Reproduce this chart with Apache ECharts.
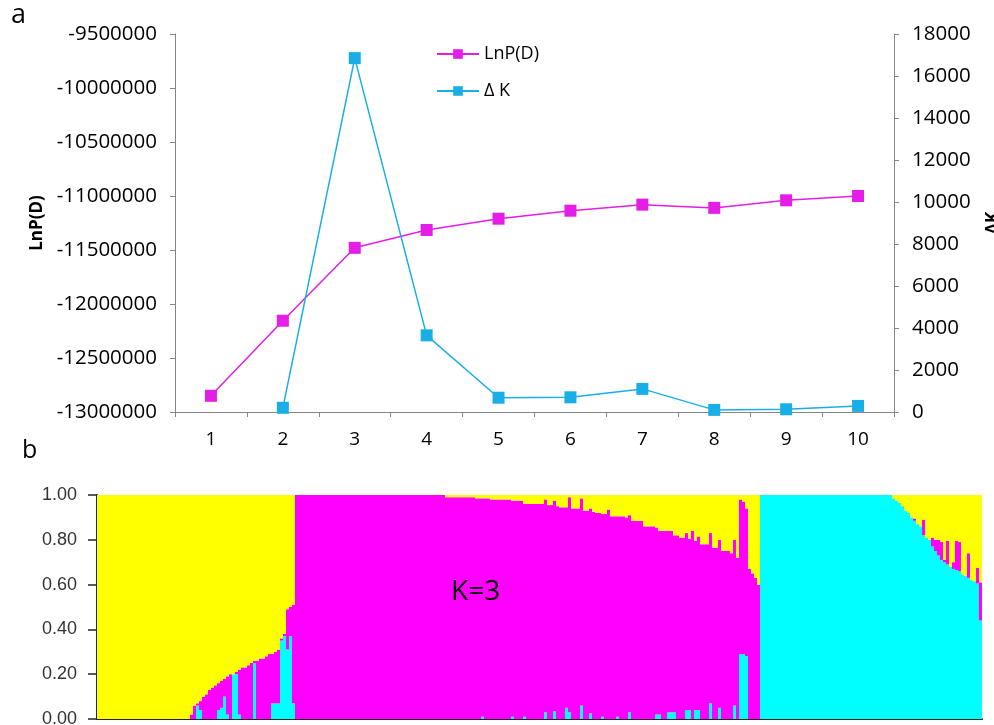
<!DOCTYPE html>
<html><head><meta charset="utf-8">
<script src="https://cdn.jsdelivr.net/npm/echarts@6/dist/echarts.min.js"></script>
<style>html,body{margin:0;padding:0;background:#fff}#c{width:994px;height:725px}</style>
</head><body><div id="c"></div>
<script>
// ---------- Panel a: Evanno / LnP(D) ----------
const kLabels = ['1','2','3','4','5','6','7','8','9','10'];
const lnPD = [-12850000, -12155000, -11480000, -11315000, -11210000, -11136000, -11080000, -11110000, -11040000, -11000000];
const deltaK = [null, 200, 16850, 3650, 680, 700, 1100, 100, 130, 290];
const lnpAxis = { min: -13000000, max: -9500000, step: 500000 };
const dkAxis = { min: 0, max: 18000, step: 2000 };

// ---------- Panel b: STRUCTURE K=3 membership (cyan bottom, magenta middle, yellow top) ----------
// Group 1 (mostly yellow), 66 individuals
const cyanG1 = [0,0,0,0,0,0,0,0,0,0, 0,0,0,0,0,0,0,0,0,0, 0,0,0,0,0,0,0,0,0,0, 0,
  0,0,.06,.04,0,0,0,0,0,.04, .05,.10,.02,0,.20,.20,.02,0,0,0, 0,.25,0,0,0,0,0,.07,.07,.07, .35,.37,.31,.37,.07];
const magentaG1 = [0,0,0,0,0,0,0,0,0,0, 0,0,0,0,0,0,0,0,0,0, 0,0,0,0,0,0,0,0,0,0, 0,
  .02,.06,.01,.04,.10,.11,.13,.14,.15,.12, .12,.08,.17,.20,0,.01,.20,.23,.23,.24, .25,.01,.26,.27,.27,.28,.29,.22,.23,.24, .01,.01,.18,.13,.44];
const yellowG1 = [1,1,1,1,1,1,1,1,1,1, 1,1,1,1,1,1,1,1,1,1, 1,1,1,1,1,1,1,1,1,1, 1,
  .98,.94,.93,.92,.90,.89,.87,.86,.85,.84, .83,.82,.81,.80,.80,.79,.78,.77,.77,.76, .75,.74,.74,.73,.73,.72,.71,.71,.70,.69, .64,.62,.51,.50,.49];
// Group 2 (mostly magenta), 155 individuals
const cyanG2 = [0,0,0,0,0,0,0,0,0,0, 0,0,0,0,0,0,0,0,0,0, 0,0,0,0,0,0,0,0,0,0, 0,0,0,0,0,0,0,0,0,0, 0,0,0,0,0,0,0,0,0,0,
  0,0,0,0,0,0,0,0,0,0, 0,0,.01,0,0,0,0,0,0,0, 0,0,.01,0,0,0,.01,0,0,0, 0,0,0,.03,0,0,.035,0,0,0, .05,.03,0,0,0,.06,0,0,.025,0,
  0,0,.01,0,0,0,0,.01,0,0, 0,.03,0,0,0,0,0,0,0,0, .02,.02,0,0,.03,.03,.03,0,0,0, .04,.04,0,.04,.04,0,0,0,.07,0, 0,.05,0,0,0,0,.06,0,.29,.29,
  .28,0,0,0,0];
const magentaG2 = [1,1,1,1,1,1,1,1,1,1, 1,1,1,1,1,1,1,1,1,1, 1,1,1,1,1,1,1,1,1,1, 1,1,1,1,1,1,1,1,1,1, 1,1,1,1,1,1,1,1,1,1,
  .99,.99,.99,.99,.99,.99,.99,.99,.99,.99, .985,.985,.975,.985,.985,.98,.98,.98,.98,.98, .98,.98,.965,.975,.975,.975,.95,.96,.96,.96,
  .96,.96,.96,.95,.955,.955,.94,.95,.945,.945, .895,.96,.94,.94,.94,.925,.93,.93,.915,.925,
  .92,.92,.905,.915,.935,.905,.905,.895,.905,.905, .90,.88,.885,.885,.885,.885,.86,.86,.86,.86,
  .835,.82,.84,.84,.81,.81,.79,.82,.81,.81, .79,.765,.84,.755,.775,.78,.78,.78,.76,.765, .765,.75,.75,.75,.75,.74,.74,.72,.69,.68,
  .66,.67,.65,.63,.60];
const yellowG2 = [0,0,0,0,0,0,0,0,0,0, 0,0,0,0,0,0,0,0,0,0, 0,0,0,0,0,0,0,0,0,0, 0,0,0,0,0,0,0,0,0,0, 0,0,0,0,0,0,0,0,0,0,
  .01,.01,.01,.01,.01,.01,.01,.01,.01,.01, .015,.015,.015,.015,.015,.02,.02,.02,.02,.02, .02,.02,.025,.025,.025,.025,.04,.04,.04,.04,
  .04,.04,.04,.02,.045,.045,.025,.05,.055,.055, .055,.01,.06,.06,.06,.015,.07,.07,.06,.075,
  .08,.08,.085,.085,.065,.095,.095,.095,.095,.095, .10,.09,.115,.115,.115,.115,.14,.14,.14,.14,
  .145,.16,.16,.16,.16,.16,.18,.18,.19,.19, .17,.195,.16,.205,.185,.22,.22,.22,.17,.235, .235,.20,.25,.25,.25,.26,.20,.28,.02,.03,
  .06,.33,.35,.37,.40];
// Group 3 (mostly cyan), 74 individuals
const cyanG3 = [1,1,1,1,1,1,1,1,1,1, 1,1,1,1,1,1,1,1,1,1, 1,1,1,1,1,1,1,1,1,1, 1,1,1,1,1,1,1,1,1,1, 1,1,1,1,
  .985,.975,.965,.95,.93,.92, .90,.885,.87,.86,.82,.81,.80,.77,.75,.73, .71,.70,.69,.68,.67,.665,.66,.645,.64,.63, .62,.615,.605,.44];
const magentaG3 = [0,0,0,0,0,0,0,0,0,0, 0,0,0,0,0,0,0,0,0,0, 0,0,0,0,0,0,0,0,0,0, 0,0,0,0,0,0,0,0,0,0, 0,0,0,0,
  0,0,0,0,0,0, 0,.01,0,0,.07,0,0,.04,.05,.07, .08,.01,.105,0,.03,.13,.13,0,0,.11, 0,0,.07,.17];
const yellowG3 = [0,0,0,0,0,0,0,0,0,0, 0,0,0,0,0,0,0,0,0,0, 0,0,0,0,0,0,0,0,0,0, 0,0,0,0,0,0,0,0,0,0, 0,0,0,0,
  .015,.025,.035,.05,.07,.08, .10,.105,.13,.14,.11,.19,.20,.19,.20,.20, .21,.29,.205,.32,.30,.205,.21,.355,.36,.26, .38,.385,.325,.39];
const qTicks = { min: 0, max: 1, step: 0.2 };

const cyanShare = [...cyanG1, ...cyanG2, ...cyanG3];
const magentaShare = [...magentaG1, ...magentaG2, ...magentaG3];
const yellowShare = [...yellowG1, ...yellowG2, ...yellowG3];
const individuals = cyanShare.map((_, i) => String(i + 1));

const FONT = '"Open Sans", sans-serif';
const AXIS_GREY = '#868686';
const LNP_COLOR = '#e41ee4';
const DK_COLOR = '#19afe6';

const chart = echarts.init(document.getElementById('c'), null, { renderer: 'canvas' });
const barBase = { type: 'bar', xAxisIndex: 1, yAxisIndex: 2, stack: 'q', barCategoryGap: '0%', barGap: '0%', silent: true };
const plain = v => String(v);

chart.setOption({
  animation: false,
  backgroundColor: '#ffffff',
  grid: [
    { left: 175, top: 34, width: 719, height: 378, containLabel: false, outerBoundsMode: 'none' },
    { left: 97, top: 495, width: 885, height: 224, containLabel: false, outerBoundsMode: 'none' }
  ],
  legend: {
    data: ['LnP(D)', 'Δ K'],
    orient: 'vertical', left: 431, top: 40,
    itemWidth: 42, itemHeight: 12, itemGap: 19,
    selectedMode: false,
    textStyle: { fontFamily: FONT, fontSize: 18, color: '#000' }
  },
  xAxis: [
    {
      type: 'category', gridIndex: 0, data: kLabels, boundaryGap: true,
      axisLine: { lineStyle: { color: AXIS_GREY, width: 1 } },
      axisTick: { show: true, length: 5, lineStyle: { color: AXIS_GREY } },
      axisLabel: { fontFamily: FONT, fontSize: 19, color: '#000', margin: 18 },
      splitLine: { show: false }
    },
    {
      type: 'category', gridIndex: 1, data: individuals, boundaryGap: true,
      axisLine: { lineStyle: { color: '#222', width: 2 } },
      axisTick: { show: false }, axisLabel: { show: false }, splitLine: { show: false }
    }
  ],
  yAxis: [
    {
      type: 'value', gridIndex: 0, position: 'left',
      min: lnpAxis.min, max: lnpAxis.max, interval: lnpAxis.step,
      name: 'LnP(D)', nameLocation: 'middle', nameGap: 122, nameRotate: 90,
      nameTextStyle: { fontFamily: FONT, fontSize: 17, fontWeight: 'bold', color: '#000' },
      axisLine: { show: true, lineStyle: { color: AXIS_GREY } },
      axisTick: { show: true, length: 5, lineStyle: { color: AXIS_GREY } },
      axisLabel: { fontFamily: FONT, fontSize: 20.5, color: '#000', margin: 18, formatter: plain },
      splitLine: { show: false }
    },
    {
      type: 'value', gridIndex: 0, position: 'right',
      min: dkAxis.min, max: dkAxis.max, interval: dkAxis.step,
      name: 'ΔK', nameLocation: 'middle', nameGap: 91, nameRotate: 90,
      nameTextStyle: { fontFamily: FONT, fontSize: 17, fontWeight: 'bold', color: '#000' },
      axisLine: { show: true, lineStyle: { color: AXIS_GREY } },
      axisTick: { show: true, length: 5, lineStyle: { color: AXIS_GREY } },
      axisLabel: { fontFamily: FONT, fontSize: 20.5, color: '#000', margin: 18, formatter: plain },
      splitLine: { show: false }
    },
    {
      type: 'value', gridIndex: 1, min: qTicks.min, max: qTicks.max, interval: qTicks.step,
      axisLine: { show: true, lineStyle: { color: '#222', width: 2 } },
      axisTick: { show: true, length: 9, lineStyle: { color: '#222', width: 1.5 } },
      axisLabel: { fontFamily: '"Liberation Sans", Arial, sans-serif', fontSize: 18, color: '#333', margin: 20,
        formatter: v => v.toFixed(2) },
      splitLine: { show: false }
    }
  ],
  series: [
    {
      name: 'LnP(D)', type: 'line', xAxisIndex: 0, yAxisIndex: 0, data: lnPD,
      symbol: 'rect', symbolSize: 12, color: LNP_COLOR,
      lineStyle: { color: LNP_COLOR, width: 1.5 }, itemStyle: { color: LNP_COLOR }, z: 3
    },
    {
      name: 'Δ K', type: 'line', xAxisIndex: 0, yAxisIndex: 1, data: deltaK,
      symbol: 'rect', symbolSize: 12, color: DK_COLOR, connectNulls: false,
      lineStyle: { color: DK_COLOR, width: 1.5 }, itemStyle: { color: DK_COLOR }, z: 3
    },
    Object.assign({ name: 'cluster cyan', data: cyanShare, itemStyle: { color: '#00ffff' } }, barBase),
    Object.assign({ name: 'cluster magenta', data: magentaShare, itemStyle: { color: '#ff00ff' } }, barBase),
    Object.assign({ name: 'cluster yellow', data: yellowShare, itemStyle: { color: '#ffff00' } }, barBase)
  ],
  graphic: [
    { type: 'text', left: 11, top: 2, style: { text: 'a', fontFamily: FONT, fontSize: 27, fill: '#000' } },
    { type: 'text', left: 22, top: 438, style: { text: 'b', fontFamily: FONT, fontSize: 25, fill: '#000' } },
    { type: 'text', left: 451, top: 578, z: 100, style: { text: 'K=3', fontFamily: FONT, fontSize: 28, fill: '#000' } }
  ]
});
</script></body></html>
